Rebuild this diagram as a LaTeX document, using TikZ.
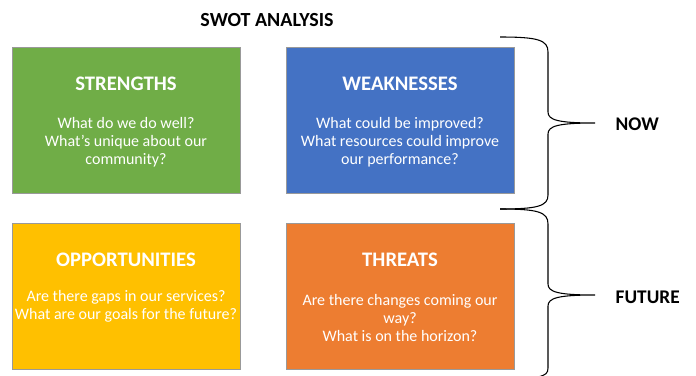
\documentclass[tikz,border=0pt]{standalone}
\usepackage{fontspec}
\setmainfont{Carlito}
\usetikzlibrary{positioning}

\definecolor{swotgreen}{RGB}{112,173,71}
\definecolor{swotblue}{RGB}{68,114,196}
\definecolor{swotyellow}{RGB}{255,192,0}
\definecolor{swotorange}{RGB}{237,125,49}

\tikzset{
  quad/.style={draw=black!40, line width=0.6pt, anchor=north west, inner sep=0pt,
    minimum width=171pt, minimum height=109.5pt},
  qtitle/.style={text=white, font=\fontsize{15.5}{18}\selectfont\bfseries},
  qbody/.style={text=white, align=center, font=\fontsize{12}{13.5}\selectfont},
  side/.style={anchor=west, font=\fontsize{14.5}{17}\selectfont\bfseries},
  brace/.style={line width=0.8pt}
}

\begin{document}
\begin{tikzpicture}[x=0.75pt,y=0.75pt,yscale=-1,xscale=1]
        \useasboundingbox (0,0) rectangle (696,375);
        \clip (0,0) rectangle (696,375);

        % Title
        \node[font=\fontsize{15}{17}\selectfont\bfseries] (swot) at (267,20) {SWOT ANALYSIS};

        %Shape: Rectangles
        \node[quad, fill=swotgreen] (str) at (12,47) {};
        \node[quad, fill=swotblue] (wea) at (286,47) {};
        \node[quad, fill=swotyellow] (opp) at (12,223) {};
        \node[quad, fill=swotorange] (thr) at (286,223) {};

        % Text Node
        \node[qtitle] (strT) at (126,84) {STRENGTHS};
        \node[qbody] (strB) at (126,142) {What do we do well?\\What’s unique about our\\community?};
        % Text Node
        \node[qtitle] (weaT) at (400,84) {WEAKNESSES};
        \node[qbody] (weaB) at (400,142) {What could be improved?\\What resources could improve\\our performance?};
        % Text Node
        \node[qtitle] (oppT) at (126,260) {OPPORTUNITIES};
        \node[qbody] (oppB) at (126,306.5) {Are there gaps in our services?\\What are our goals for the future?};
        % Text Node
        \node[qtitle] (thrT) at (400,260) {THREATS};
        \node[qbody] (thrB) at (400,318) {Are there changes coming our\\way?\\What is on the horizon?};

        %Curve Lines: braces
        \draw[brace] (500,37) .. controls (538,37) and (548,40) .. (548,52)
          -- (548,112) .. controls (548,120) and (558,123) .. (595,123)
          .. controls (558,123) and (548,126) .. (548,134)
          -- (548,195) .. controls (548,206) and (538,209) .. (500,209);
        \draw[brace] (500,209) .. controls (538,209) and (548,212) .. (548,224)
          -- (548,284) .. controls (548,292) and (558,295) .. (595,295)
          .. controls (558,295) and (548,298) .. (548,306)
          -- (548,368) .. controls (548,373) and (546,375) .. (538,377);

        % Text Node
        \node[side] (now) at (611,124) {NOW};
        \node[side] (fut) at (611,297) {FUTURE};
\end{tikzpicture}
\end{document}
